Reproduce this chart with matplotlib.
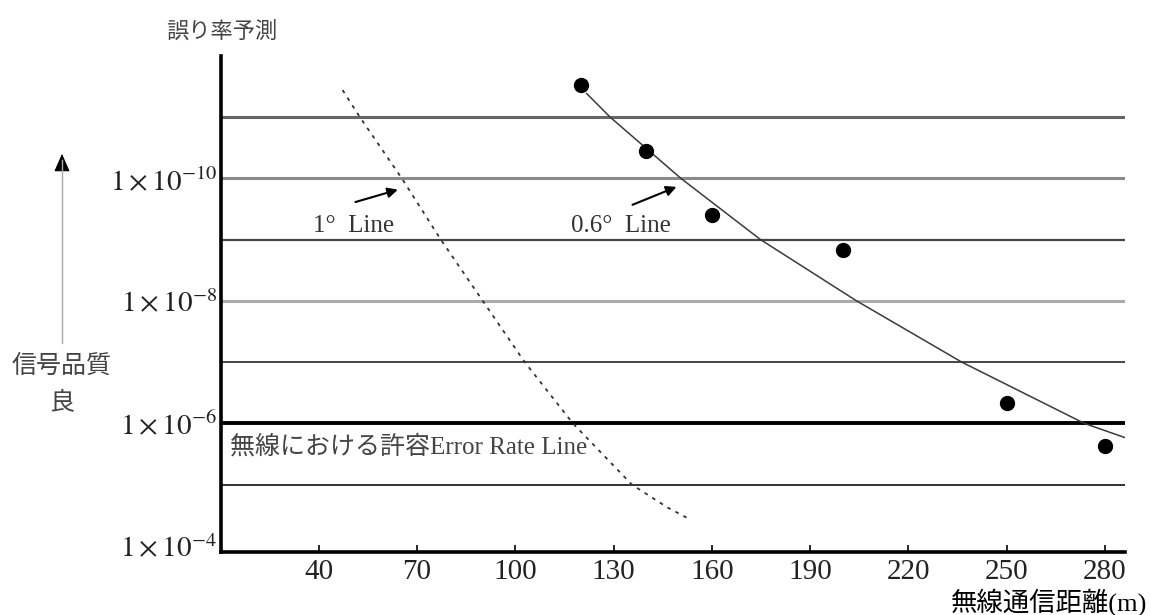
import matplotlib
matplotlib.use("Agg")
import matplotlib.pyplot as plt
from matplotlib.lines import Line2D

plt.rcParams["mathtext.fontset"] = "stix"
plt.rcParams["font.family"] = ["Liberation Serif", "Noto Sans CJK JP"]

# --- measured points (distance m / error rate) ---
dist_pts = [120, 140, 160, 200, 250, 280]
err_pts  = [3.0e-12, 3.5e-11, 4.0e-10, 1.5e-9, 4.7e-7, 2.3e-6]

# --- 0.6 deg line (solid) ---
line06_x = [121.8, 129, 150.6, 174.9, 204.2, 236.3, 273.7, 286]
line06_y = [4.1e-12, 1e-11, 1e-10, 1e-9, 1e-8, 1e-7, 1e-6, 1.7e-6]

# --- 1 deg line (dashed) ---
line1_x = [47.3, 52.6, 65.4, 77.3, 90.1, 102.9, 117.6, 135.6, 146.4, 152.5]
line1_y = [3.6e-12, 1e-11, 1e-10, 1e-9, 1e-8, 1e-7, 1e-6, 1e-5, 2.35e-5, 3.5e-5]

x_ticks  = [40, 70, 100, 130, 160, 190, 220, 250, 280]
y_ticks  = [1e-10, 1e-8, 1e-6, 1e-4]
y_labels = [r"$1\times10^{-10}$", r"$1\times10^{-8}$", r"$1\times10^{-6}$", r"$1\times10^{-4}$"]
grid_levels = [1e-11, 1e-10, 1e-9, 1e-8, 1e-7, 1e-6, 1e-5]

W, H = 1151, 615
fig = plt.figure(figsize=(W / 100, H / 100), dpi=100)
ax = fig.add_axes([221 / W, 1 - 552 / H, (1125 - 221) / W, (552 - 56) / H])

ax.set_yscale("log")
ax.set_xlim(10.2, 286.1)
ax.set_ylim(1.26e-4, 1e-12)   # better quality toward the top

# horizontal rules, each drawn a bit differently like the scan
grid_styles = [("#666666", 2.2), ("#8a8a8a", 2.2), ("#444444", 1.6), ("#aaaaaa", 2.2),
               ("#444444", 1.4), ("#000000", 2.8), ("#333333", 1.4)]
for lvl, (c, lw) in zip(grid_levels, grid_styles):
    ax.axhline(lvl, color=c, lw=lw, zorder=1)

ax.plot(line1_x, line1_y, color="#333333", lw=1.3, linestyle=(0, (2, 3)), zorder=2)
ax.plot(line06_x, line06_y, color="#3a3a3a", lw=1.1, zorder=2)
ax.plot(dist_pts, err_pts, "o", color="black", markersize=10, zorder=3)

# axes look
for s in ["top", "right"]:
    ax.spines[s].set_visible(False)
for s in ["left", "bottom"]:
    ax.spines[s].set_linewidth(2.6)
    ax.spines[s].set_color("black")

ax.set_xticks(x_ticks)
ax.set_xticklabels([str(v) for v in x_ticks], fontsize=21, color="#222222")
ax.tick_params(axis="x", direction="in", length=5, width=1.2, pad=5)
ax.set_yticks(y_ticks)
ax.set_yticklabels(y_labels, fontsize=21, color="#222222")
ax.yaxis.set_minor_locator(matplotlib.ticker.NullLocator())
ax.tick_params(axis="y", length=0, pad=3)

# line annotations
ax.annotate("", xy=(65, 1.48e-10), xytext=(50.4, 2.5e-10),
            arrowprops=dict(arrowstyle="-|>", color="black", lw=1.5, mutation_scale=15))
ax.text(50.7, 6.0e-10, "1°  Line", ha="center", va="center", fontsize=18, color="#333333")
ax.annotate("", xy=(150, 1.32e-10), xytext=(135, 2.8e-10),
            arrowprops=dict(arrowstyle="-|>", color="black", lw=1.5, mutation_scale=15))
ax.text(132.4, 6.0e-10, "0.6°  Line", ha="center", va="center", fontsize=18, color="#333333")

ax.text(12.9, 2.45e-6, "無線における許容Error Rate Line", ha="left", va="center",
        fontsize=18, color="#444444")

# labels around the frame
fig.text(222 / W, 1 - 31 / H, "誤り率予測", ha="center", va="center",
         fontsize=16, color="#444444", family="Noto Sans CJK JP")
fig.text(1147 / W, 1 - 602 / H, "無線通信距離(m)", ha="right", va="center",
         fontsize=19, color="black")
fig.text(62 / W, 1 - 366 / H, "信号品質", ha="center", va="center",
         fontsize=18, color="#444444", family="Noto Sans CJK JP")
fig.text(62 / W, 1 - 402 / H, "良", ha="center", va="center",
         fontsize=18, color="#444444", family="Noto Sans CJK JP")

# quality arrow (thin grey shaft, black head)
fig.add_artist(Line2D([62 / W, 62 / W], [1 - 343 / H, 1 - 160 / H],
                      transform=fig.transFigure, color="#aaaaaa", lw=1))
fig.add_artist(matplotlib.patches.FancyArrowPatch(
    (62 / W, 1 - 166 / H), (62 / W, 1 - 151 / H), transform=fig.transFigure,
    arrowstyle="-|>,head_length=0.8,head_width=0.35", mutation_scale=14,
    color="black", lw=0.8))

fig.savefig("out.png", dpi=100)
